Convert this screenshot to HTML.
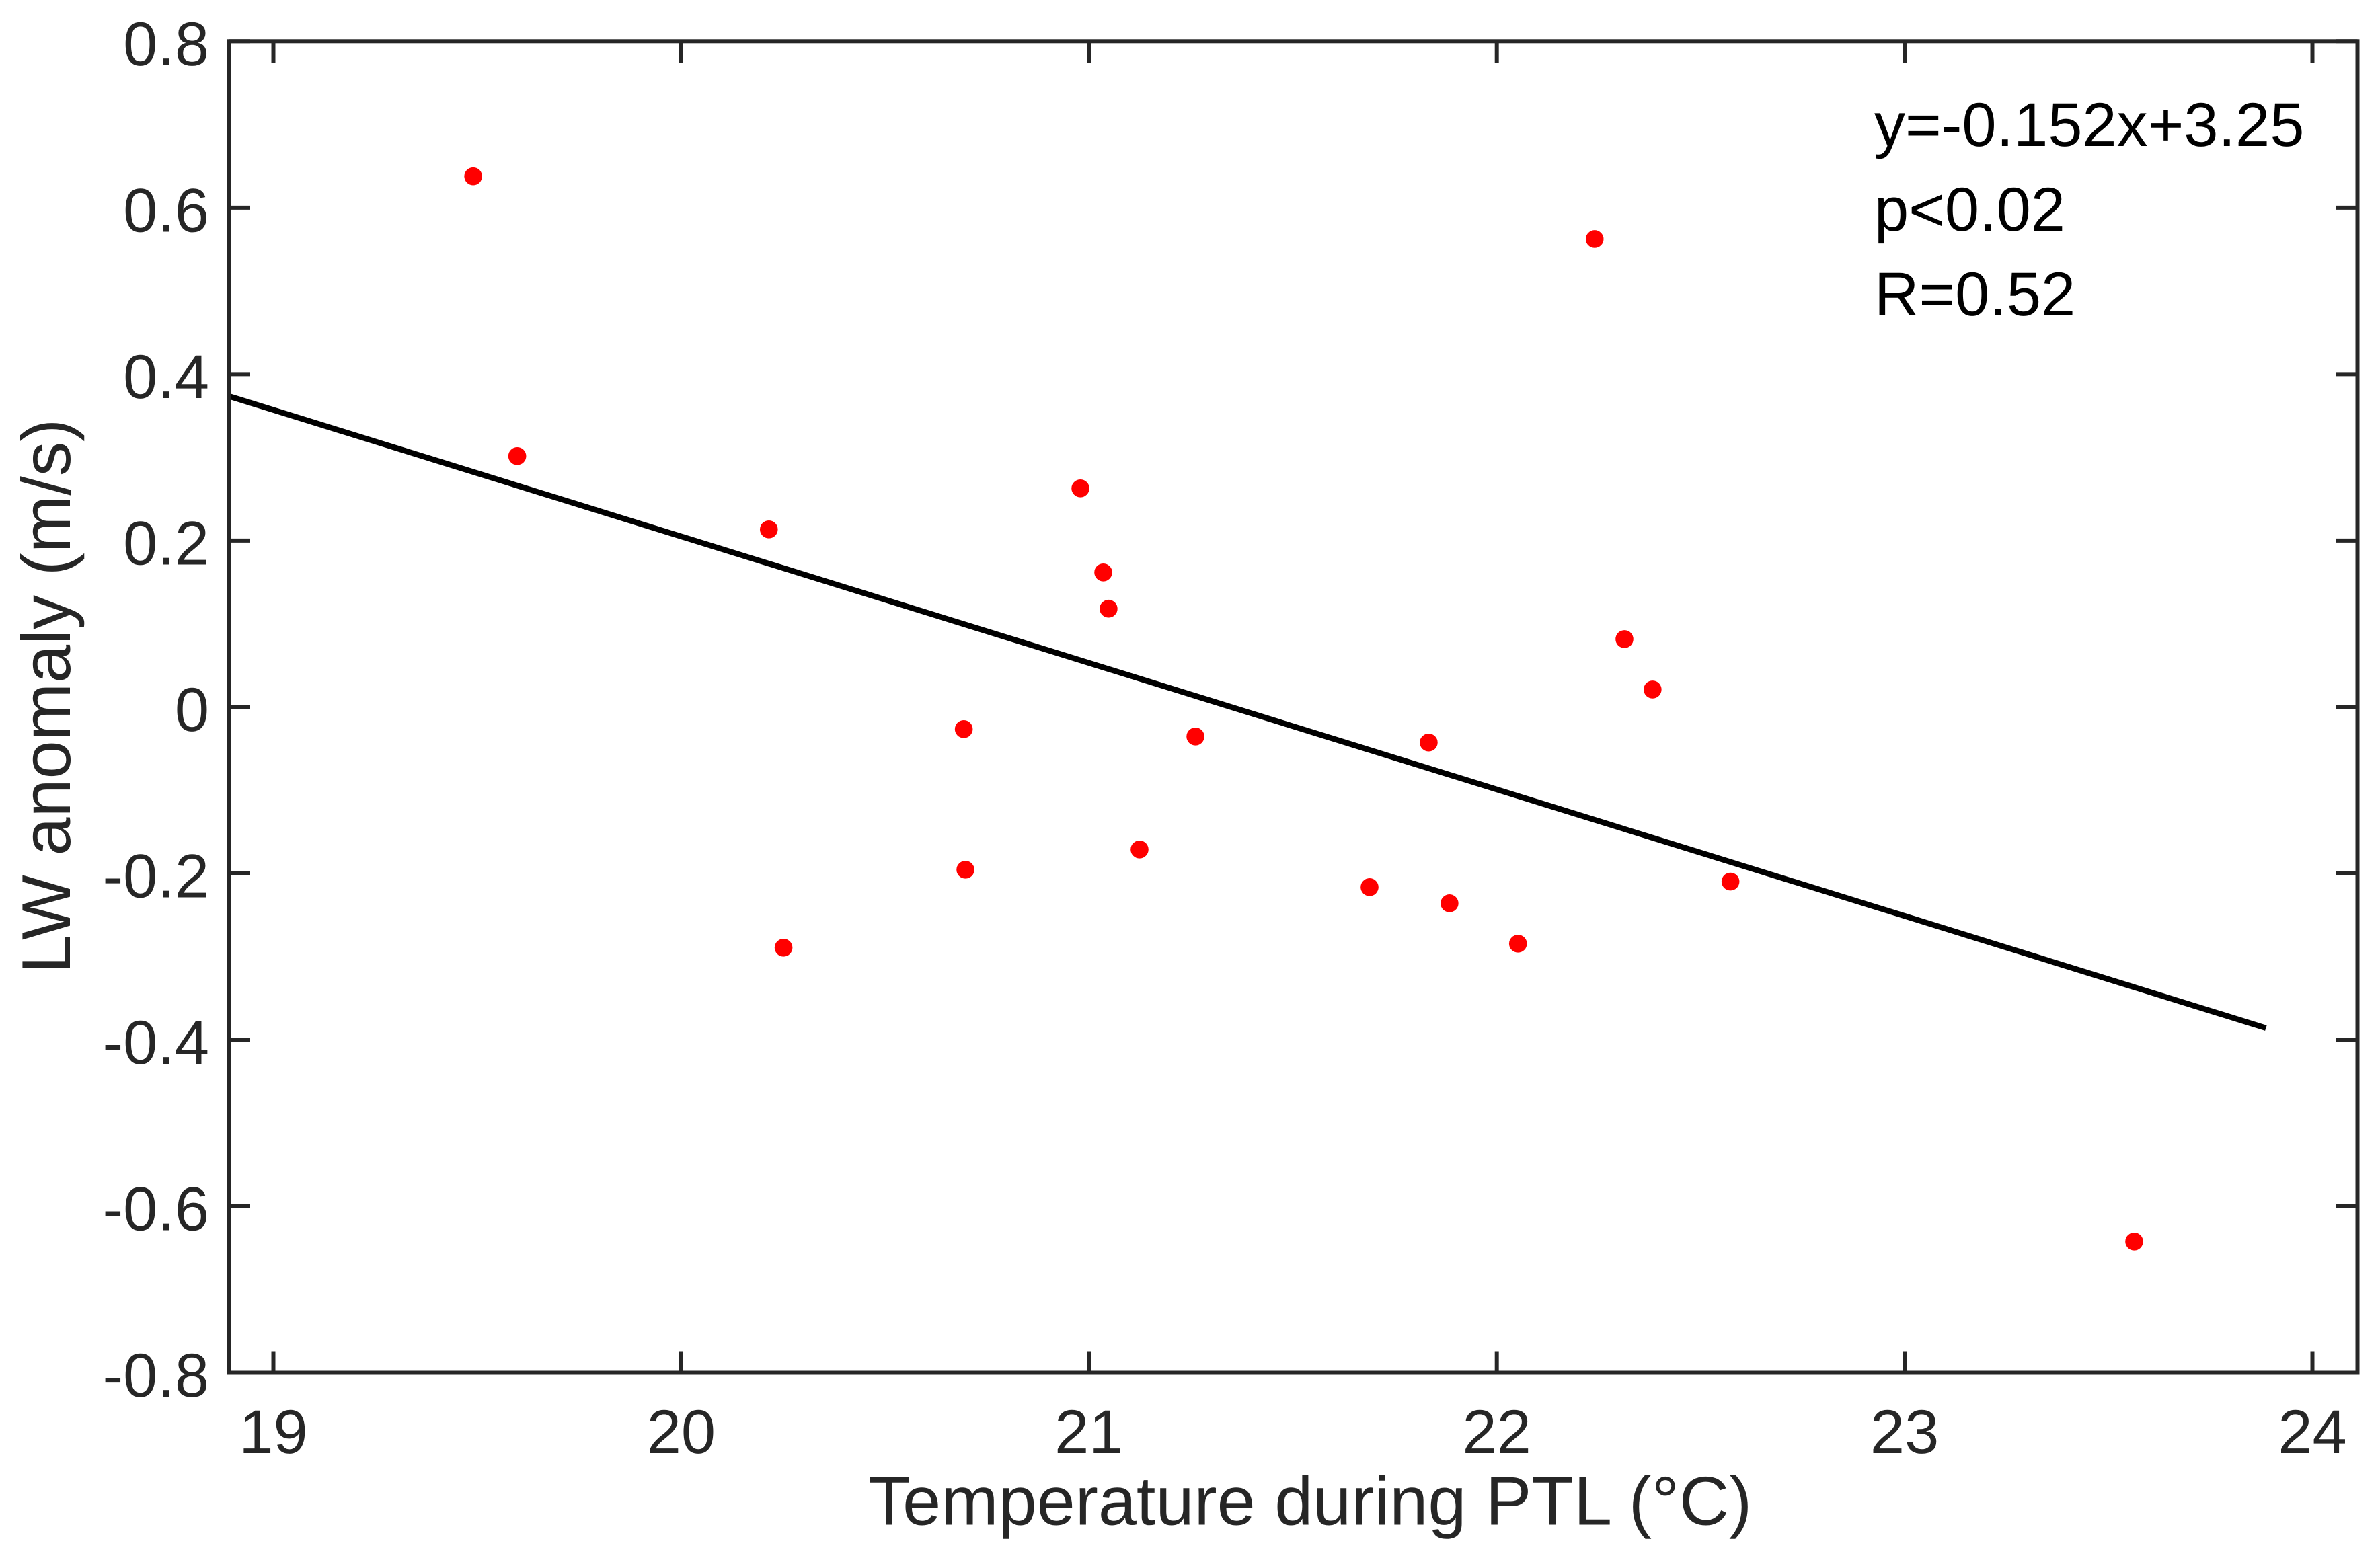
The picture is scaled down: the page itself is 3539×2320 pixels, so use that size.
<!DOCTYPE html>
<html lang="en">
<head>
<meta charset="utf-8">
<title>LW anomaly vs temperature during PTL</title>
<style>
  html, body { margin: 0; padding: 0; background: #ffffff; }
  #chart { display: block; width: 3539px; height: 2320px; }
  text { font-family: "Liberation Sans", Arial, sans-serif; text-rendering: geometricPrecision; }
  .tick-label { font-size: 92px; fill: #262626; }
  .axis-title { font-size: 102.6px; fill: #262626; }
  .annotation { font-size: 92px; fill: #000000; }
</style>
</head>
<body>
<svg id="chart" xmlns="http://www.w3.org/2000/svg" width="3539" height="2320" viewBox="0 0 3539 2320">
  <rect x="0" y="0" width="3539" height="2320" fill="#ffffff"/>
  <g id="ticks"></g>
  <g id="tick-labels"></g>
  <g id="series"></g>
  <rect x="340" y="61.3" width="3165.5" height="1980.2" fill="none" stroke="#262626" stroke-width="6"/>
  <text class="axis-title" x="1948" y="2267.5" text-anchor="middle">Temperature during PTL (°C)</text>
  <text class="axis-title" transform="translate(104 1035) rotate(-90)" text-anchor="middle">LW anomaly (m/s)</text>
  <text class="annotation" x="2787" y="217">y=-0.152x+3.25</text>
  <text class="annotation" x="2787" y="343">p&lt;0.02</text>
  <text class="annotation" x="2787" y="469">R=0.52</text>
</svg>
<script>
const temperature = [19.490, 19.598, 20.215, 20.979, 21.035, 21.048, 20.693, 20.697, 20.251, 21.124, 21.261, 21.688, 21.833, 21.884, 22.052, 22.240, 22.313, 22.382, 22.573, 23.563];
const lwAnomaly = [0.6377, 0.3015, 0.2134, 0.2627, 0.1617, 0.1181, -0.0266, -0.1955, -0.2892, -0.1712, -0.0355, -0.2165, -0.0427, -0.2359, -0.2844, 0.5623, 0.0816, 0.0210, -0.2098, -0.6423];
const fitX = [18.89, 23.886];
const fitY = [0.3737, -0.3858];
const xTicks = [19, 20, 21, 22, 23, 24];
const xTickLabels = ['19', '20', '21', '22', '23', '24'];
const yTicks = [0.8, 0.6, 0.4, 0.2, 0, -0.2, -0.4, -0.6, -0.8];
const yTickLabels = ['0.8', '0.6', '0.4', '0.2', '0', '-0.2', '-0.4', '-0.6', '-0.8'];

const SVG_NS = 'http://www.w3.org/2000/svg';
const plot = { left: 340, right: 3505.5, top: 61.3, bottom: 2041.5 };
const tickLength = 32;
function xScale(v) { return 406.5 + (v - 19) * 606.4; }
function yScale(v) { return plot.top + (0.8 - v) / 1.6 * (plot.bottom - plot.top); }

const tickGroup = document.getElementById('ticks');
const labelGroup = document.getElementById('tick-labels');
const seriesGroup = document.getElementById('series');

function tickLine(x1, y1, x2, y2) {
  const line = document.createElementNS(SVG_NS, 'line');
  line.setAttribute('x1', x1);
  line.setAttribute('y1', y1);
  line.setAttribute('x2', x2);
  line.setAttribute('y2', y2);
  line.setAttribute('stroke', '#262626');
  line.setAttribute('stroke-width', '6');
  return line;
}

xTicks.forEach(function (t, i) {
  const x = xScale(t);
  const bottomTick = tickLine(x, plot.bottom, x, plot.bottom - tickLength);
  
  
  tickGroup.appendChild(bottomTick);
  const topTick = tickLine(x, plot.top, x, plot.top + tickLength);
  
  
  tickGroup.appendChild(topTick);
  const label = document.createElementNS(SVG_NS, 'text');
  label.setAttribute('class', 'tick-label');
  label.setAttribute('x', x);
  label.setAttribute('y', 2161);
  label.setAttribute('text-anchor', 'middle');
  
  
  label.textContent = xTickLabels[i];
  labelGroup.appendChild(label);
});

yTicks.forEach(function (t, i) {
  const y = yScale(t);
  const leftTick = tickLine(plot.left, y, plot.left + tickLength, y);
  
  
  tickGroup.appendChild(leftTick);
  const rightTick = tickLine(plot.right, y, plot.right - tickLength, y);
  
  
  tickGroup.appendChild(rightTick);
  const label = document.createElementNS(SVG_NS, 'text');
  label.setAttribute('class', 'tick-label');
  label.setAttribute('x', 311);
  label.setAttribute('y', y + 35.5);
  label.setAttribute('text-anchor', 'end');
  
  
  label.textContent = yTickLabels[i];
  labelGroup.appendChild(label);
});

const fitLine = document.createElementNS(SVG_NS, 'line');
fitLine.setAttribute('x1', xScale(fitX[0]));
fitLine.setAttribute('y1', yScale(fitY[0]));
fitLine.setAttribute('x2', xScale(fitX[1]));
fitLine.setAttribute('y2', yScale(fitY[1]));
fitLine.setAttribute('stroke', '#000000');
fitLine.setAttribute('stroke-width', '8.5');


seriesGroup.appendChild(fitLine);

temperature.forEach(function (t, i) {
  const dot = document.createElementNS(SVG_NS, 'circle');
  dot.setAttribute('cx', xScale(t));
  dot.setAttribute('cy', yScale(lwAnomaly[i]));
  dot.setAttribute('r', '13.3');
  dot.setAttribute('fill', '#ff0000');
  
  
  seriesGroup.appendChild(dot);
});
</script>
</body>
</html>
